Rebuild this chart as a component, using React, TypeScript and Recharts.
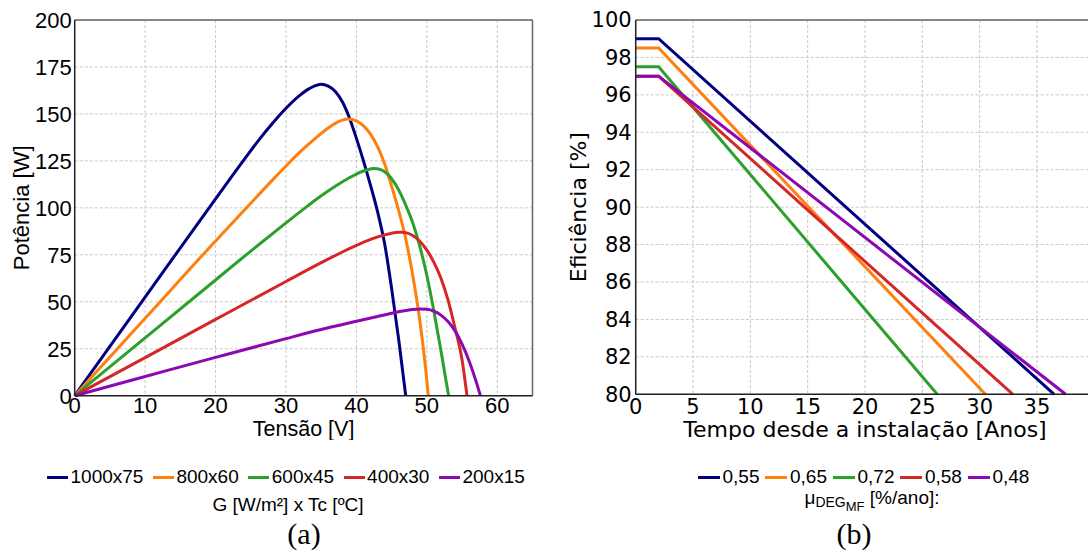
import React from "react";
import { LineChart, Line, XAxis, YAxis, CartesianGrid, ReferenceLine } from "recharts";

const SANS = "'Liberation Sans', Arial, sans-serif";
const DEJAVU = "'DejaVu Sans', sans-serif";
const SERIF = "'Liberation Serif', 'Times New Roman', serif";

// (a) curvas P x V por condição G x Tc
const pvLabels = ["1000x75", "800x60", "600x45", "400x30", "200x15"];
const pvColors = ["#000080", "#ff7f0e", "#2ca02c", "#d62728", "#8c08b0"];

const v1000 = [0, 10, 20, 24, 26, 28, 30, 32, 33, 34, 35, 36, 37, 38, 39, 40, 41, 42, 43, 44, 45, 46, 47];
const p1000 = [0, 52.5, 104.8, 125.4, 135.4, 144.6, 153, 160, 162.8, 164.8, 165.8, 164.8, 162, 156.5, 148, 137, 125, 112, 98, 81, 57, 30, 0];

const v800 = [0, 10, 20, 25, 28, 30, 32, 34, 36, 37, 38, 38.8, 40, 41, 42, 43, 44, 45, 46, 47, 48, 49, 50, 50.2];
const p800 = [0, 41.2, 82.4, 102.5, 114.5, 122.3, 129.8, 136.5, 142.5, 145, 146.7, 147.3, 146.3, 143.6, 139.2, 132.6, 123.5, 111.5, 98.5, 83.5, 64, 40, 8, 0];

const v600 = [0, 10, 20, 25, 30, 33, 35, 37, 39, 40, 41, 42, 42.5, 43, 44, 45, 46, 47, 48, 49, 50, 51, 52, 53, 53.1];
const p600 = [0, 30.8, 61.6, 77, 92, 100.8, 106.4, 111.5, 116, 118, 119.6, 120.7, 121, 120.8, 119.2, 115.5, 109.5, 101.5, 92, 79.5, 64, 45, 24, 2, 0];

const v400 = [0, 10, 20, 30, 35, 38, 40, 42, 44, 45, 46, 46.5, 47, 48, 49, 50, 51, 52, 53, 54, 55, 55.7];
const p400 = [0, 20.3, 40.6, 60.8, 70.8, 76.5, 80, 83.2, 85.6, 86.5, 87, 87, 86.8, 85.3, 82.2, 77.5, 71, 62.5, 51, 36, 19, 0];

const v200 = [0, 10, 20, 30, 35, 40, 43, 45, 47, 48, 49, 50, 51, 52, 53, 54, 55, 56, 57, 57.6];
const p200 = [0, 10.2, 20.4, 30.4, 35.2, 39.6, 42.2, 43.9, 45.3, 45.9, 46.2, 46, 45, 42.9, 39.5, 34.5, 27.5, 18.5, 7.5, 0];

const voltTicks = [0, 10, 20, 30, 40, 50, 60];
const powerTicks = [0, 25, 50, 75, 100, 125, 150, 175, 200];

// (b) eficiência x tempo por taxa de degradação
const degLabels = ["0,55", "0,65", "0,72", "0,58", "0,48"];
const degColors = ["#000080", "#ff7f0e", "#2ca02c", "#d62728", "#8c08b0"];

const years055 = [0, 2, 36.5];
const eff055 = [99, 99, 80];
const years065 = [0, 2, 30.5];
const eff065 = [98.5, 98.5, 80];
const years072 = [0, 2, 26.3];
const eff072 = [97.5, 97.5, 80];
const years058 = [0, 2, 32.9];
const eff058 = [97, 97, 80];
const years048 = [0, 2, 37.5];
const eff048 = [97, 97, 80];

const yearTicks = [0, 5, 10, 15, 20, 25, 30, 35];
const effTicks = [80, 82, 84, 86, 88, 90, 92, 94, 96, 98, 100];

const pvSeries = [
  [v1000, p1000],
  [v800, p800],
  [v600, p600],
  [v400, p400],
  [v200, p200],
].map(([vs, ps], i) => ({
  name: pvLabels[i],
  color: pvColors[i],
  data: vs.map((v, k) => ({ v, p: ps[k] })),
}));

const degSeries = [
  [years055, eff055],
  [years065, eff065],
  [years072, eff072],
  [years058, eff058],
  [years048, eff048],
].map(([ts, es], i) => ({
  name: degLabels[i],
  color: degColors[i],
  data: ts.map((t, k) => ({ t, e: es[k] })),
}));

function yTitle(text: string, baselineX: number, font: string, size: number) {
  return (props: any) => {
    const vb = props.viewBox || { x: 0, y: 20, width: 75, height: 375 };
    const x = vb.x + baselineX;
    const y = vb.y + vb.height / 2;
    return (
      <text x={x} y={y} transform={`rotate(-90 ${x} ${y})`} textAnchor="middle" fontFamily={font} fontSize={size} fill="#000">
        {text}
      </text>
    );
  };
}

function xTitle(text: string, baselineY: number, font: string, size: number) {
  return (props: any) => {
    const vb = props.viewBox || { x: 75, y: 395, width: 458, height: 44 };
    return (
      <text x={vb.x + vb.width / 2} y={vb.y + baselineY} textAnchor="middle" fontFamily={font} fontSize={size} fill="#000">
        {text}
      </text>
    );
  };
}

function LegendRow({ items, left, gap, lineW }: { items: { name: string; color: string }[]; left: number; gap: number; lineW: number }) {
  return (
    <div style={{ position: "absolute", left, top: 466, height: 22, display: "flex", alignItems: "center", fontFamily: SANS, fontSize: 19, lineHeight: "22px", color: "#000", whiteSpace: "nowrap" }}>
      {items.map((it) => (
        <div key={it.name} style={{ display: "flex", alignItems: "center", marginRight: gap }}>
          <span style={{ display: "inline-block", width: lineW, height: 3, background: it.color, marginRight: 2.5 }} />
          <span>{it.name}</span>
        </div>
      ))}
    </div>
  );
}

export default function App() {
  const tickSans = { fill: "#000", fontSize: 22, fontFamily: SANS };
  const tickDejavu = { fill: "#000", fontSize: 21, fontFamily: DEJAVU };
  const axisStyle = { stroke: "#222", strokeWidth: 1.5 };

  return (
    <div style={{ position: "fixed", left: 0, top: 0, width: 1088, height: 552, overflow: "hidden", background: "#fff" }}>
      <div style={{ position: "absolute", left: 0, top: 0 }}>
        <LineChart width={545} height={440} margin={{ top: 20, right: 12.5, left: 0, bottom: 0 }}>
          <CartesianGrid stroke="#c8c8c8" strokeDasharray="3 2" />
          <XAxis
            type="number"
            dataKey="v"
            domain={[0, 65]}
            ticks={voltTicks}
            tick={tickSans}
            tickLine={false}
            tickSize={0}
            tickMargin={2}
            axisLine={axisStyle}
            height={44.3}
            label={{ content: xTitle("Tensão [V]", 40.5, SANS, 21.5) }}
          />
          <YAxis
            type="number"
            domain={[0, 200]}
            ticks={powerTicks}
            tick={tickSans}
            tickLine={false}
            tickSize={0}
            tickMargin={3}
            axisLine={axisStyle}
            width={74.7}
            label={{ content: yTitle("Potência [W]", 29.5, SANS, 22) }}
          />
          <ReferenceLine y={200} stroke="#666" strokeWidth={1.5} />
          <ReferenceLine x={65} stroke="#666" strokeWidth={1.5} />
          {pvSeries.map((s) => (
            <Line
              key={s.name}
              data={s.data}
              dataKey="p"
              type="monotone"
              stroke={s.color}
              strokeWidth={3}
              dot={false}
              isAnimationActive={false}
            />
          ))}
        </LineChart>
      </div>

      <div style={{ position: "absolute", left: 560, top: 0 }}>
        <LineChart width={528} height={440} margin={{ top: 20, right: -6.3, left: 0, bottom: 0 }}>
          <CartesianGrid stroke="#c8c8c8" strokeDasharray="3 2" />
          <XAxis
            type="number"
            dataKey="t"
            domain={[0, 40]}
            ticks={yearTicks}
            tick={tickDejavu}
            tickLine={false}
            tickSize={0}
            tickMargin={5}
            axisLine={axisStyle}
            height={45.7}
            label={{ content: xTitle("Tempo desde a instalação [Anos]", 42.8, DEJAVU, 22) }}
          />
          <YAxis
            type="number"
            domain={[80, 100]}
            ticks={effTicks}
            tick={tickDejavu}
            tickLine={false}
            tickSize={0}
            tickMargin={4}
            axisLine={axisStyle}
            width={75.7}
            label={{ content: yTitle("Eficiência [%]", 26, DEJAVU, 22) }}
          />
          <ReferenceLine y={100} stroke="#666" strokeWidth={1.5} />
          {degSeries.map((s) => (
            <Line
              key={s.name}
              data={s.data}
              dataKey="e"
              type="linear"
              stroke={s.color}
              strokeWidth={3}
              dot={false}
              isAnimationActive={false}
            />
          ))}
        </LineChart>
      </div>

      <LegendRow items={pvSeries} left={47} gap={9.5} lineW={21} />
      <LegendRow items={degSeries} left={698} gap={6} lineW={22} />

      <svg width={1088} height={552} style={{ position: "absolute", left: 0, top: 0, pointerEvents: "none" }}>
        <text x={288} y={511} textAnchor="middle" fontFamily={SANS} fontSize={19} fill="#000">
          G [W/m²] x Tc [ºC]
        </text>
        <text x={872} y={504} textAnchor="middle" fontFamily={SANS} fontSize={19} fill="#000">
          μ
          <tspan fontSize={14} dy={3}>DEG</tspan>
          <tspan fontSize={13} dy={4}>MF</tspan>
          <tspan fontSize={19} dy={-7}> [%/ano]:</tspan>
        </text>
        <text x={304} y={544} textAnchor="middle" fontFamily={SERIF} fontSize={30} fill="#000">
          (a)
        </text>
        <text x={854} y={544} textAnchor="middle" fontFamily={SERIF} fontSize={30} fill="#000">
          (b)
        </text>
      </svg>
    </div>
  );
}
